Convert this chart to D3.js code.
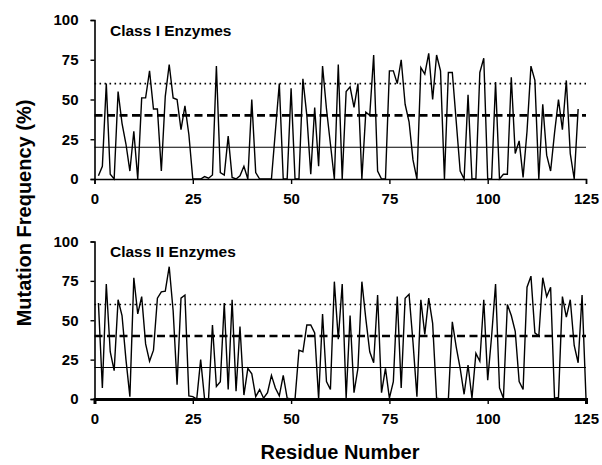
<!DOCTYPE html>
<html><head><meta charset="utf-8">
<script src="https://cdn.jsdelivr.net/npm/d3@7"></script>
<style>body{margin:0;background:#fff}svg{display:block}</style>
</head><body>
<script>
const classI = [2,8,60,3,0,55,35,22,5,30,0,51,51,68,44,44,5,52,72,51,50,31,46,28,0,0,0,1.5,0.5,2.5,
71,4,2.5,27,1,0,2,8,0,50,4,0,0,0,0,30,60,0,0,57,0,0,63,40,3,45,8,71,44,22,
0,72,0,55,58,45,60,0,42,40,78,5,0,0,68,68,60,75,47,36,12,0,70,66,79,50,78,68,0,67,
67,36,5,0,53,0,0,67,76,0,0,61,0,3,3,64,16,24,1,30,71,62,0,47,15,5,29,50,31,62,
16,0,44];
const classII = [61,7,73,30,18,63,53,25,1.5,77,54,65,35,24,31,64,68,68.5,84,56,9,64,66,2,1.5,0,25,0,0,47,
8,11,61,6,63,5,46,2.5,19.5,16,1.5,6,0.5,4,15,7,2,15,0.5,0,0,31,30,47,47,42,0,54,11,6,
74.5,38,73,0.5,53,4,19.5,74.5,51,30,23,66,4,19.5,0.5,11,65,7,64,66.5,36,1.5,63,41,64,48,0.5,0,0,0,
49,33,19.5,3,21.6,0.5,29,24,63,12,40,73,7,0.5,60,53,43,11,6,71,78,42,40,77,65,71,0.5,1,
65,52,63,34,23,66,0.5];
const xTicks = [0,25,50,75,100,125];
const yTicks = [0,25,50,75,100];
const refLevels = [60,40,20];
const panelTitles = ["Class I Enzymes","Class II Enzymes"];

const W=602,H=465;
const svg=d3.select("body").append("svg").attr("width",W).attr("height",H);
const x=d3.scaleLinear().domain([0,125]).range([94.5,586]);
const font="'Liberation Sans', Arial, sans-serif";

const panels=[
  {data:classI, top:20, bottom:179, title:panelTitles[0], baseW:1.5},
  {data:classII, top:241.5, bottom:399, title:panelTitles[1], baseW:3}
];
const refStyles={60:{w:1.6,d:"1.6,3.4"},40:{w:2.6,d:"8,4.5"},20:{w:1.1,d:null}};

panels.forEach(p=>{
  const y=d3.scaleLinear().domain([0,100]).range([p.bottom,p.top]);
  const g=svg.append("g");
  refLevels.forEach(lv=>{
    const s=refStyles[lv];
    g.append("line").attr("x1",x(0)).attr("x2",x(125)).attr("y1",y(lv)).attr("y2",y(lv))
      .attr("stroke","#000").attr("stroke-width",s.w).attr("stroke-dasharray",s.d);
  });
  const line=d3.line().x((d,i)=>x(i+1)).y(d=>y(d));
  g.append("path").datum(p.data).attr("d",line).attr("fill","none")
    .attr("stroke","#000").attr("stroke-width",1.4).attr("stroke-linejoin","miter");
  const ya=g.append("g").attr("transform",`translate(${x(0)},0)`)
    .call(d3.axisLeft(y).tickValues(yTicks).tickSize(4).tickPadding(12));
  const xa=g.append("g").attr("transform",`translate(0,${p.bottom})`)
    .call(d3.axisBottom(x).tickValues(xTicks).tickSize(5).tickPadding(9));
  [ya,xa].forEach(a=>{
    a.selectAll("path").attr("stroke","#000").attr("stroke-width",1.6);
    a.selectAll("line").attr("stroke","#000").attr("stroke-width",1.4);
    a.selectAll("text").attr("font-family",font).attr("font-weight","bold")
      .attr("font-size",15).attr("fill","#000");
  });
  xa.select("path").attr("stroke-width",p.baseW);
  g.append("text").attr("x",110).attr("y",p.top+15.5).text(p.title)
    .attr("font-family",font).attr("font-weight","bold").attr("font-size",15.5);
});

svg.append("text").attr("transform","translate(31,213) rotate(-90)")
  .attr("text-anchor","middle").attr("font-family",font).attr("font-weight","bold")
  .attr("font-size",20).text("Mutation Frequency (%)");
svg.append("text").attr("x",340).attr("y",459).attr("text-anchor","middle")
  .attr("font-family",font).attr("font-weight","bold").attr("font-size",20).text("Residue Number");
</script>
</body></html>
